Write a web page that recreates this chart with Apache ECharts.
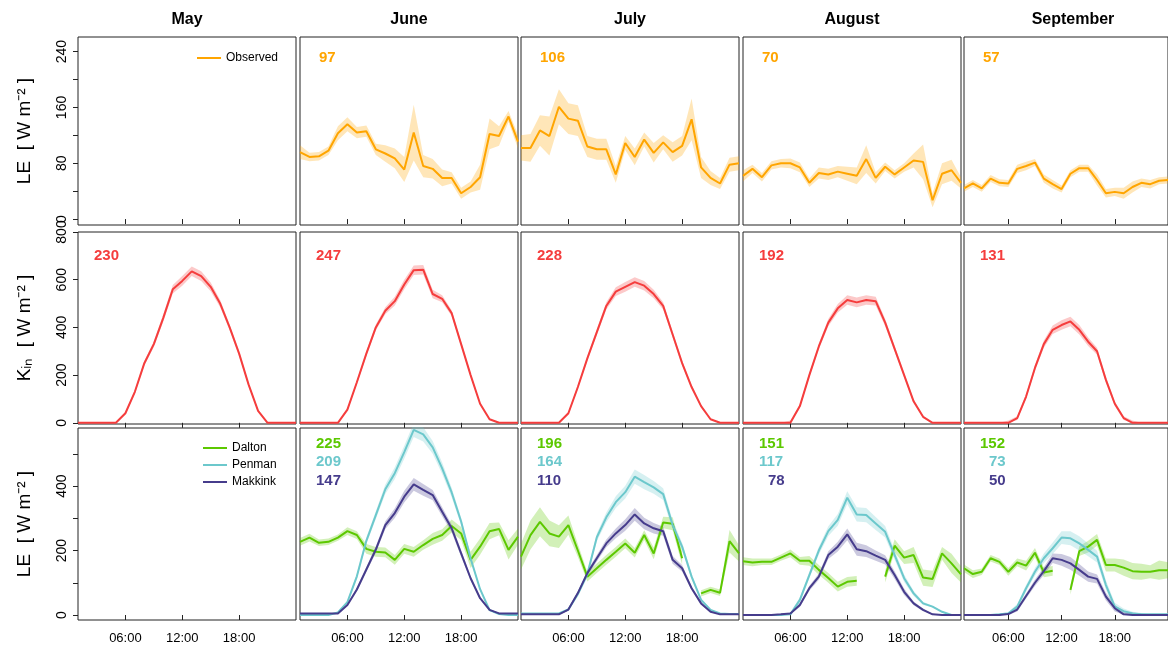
<!DOCTYPE html>
<html>
<head>
<meta charset="utf-8">
<script src="https://cdn.jsdelivr.net/npm/echarts@6/dist/echarts.min.js"></script>
</head>
<body style="margin:0">
<div id="main" style="width:1168px;height:649px;"></div>
<script>
// hours of the day (hourly means)
var hours = [1,2,3,4,5,6,7,8,9,10,11,12,13,14,15,16,17,18,19,20,21,22,23,24];
var months = ['May', 'June', 'July', 'August', 'September'];
var tickHours = [6, 12, 18];

// observed LE (row 1), May has no data
var junObs = [96,89,90,98,123,136,124,126,100,94,87,71,124,76,72,59,59,37,46,60,122,119,147,111];
var junObsSd = [10,6,6,6,10,10,8,8,8,12,14,18,40,16,14,12,8,8,8,18,22,14,8,10];
var julObs = [102,102,127,119,161,144,141,104,100,100,64,109,89,114,95,110,96,105,143,74,59,51,78,80];
var julObsSd = [18,20,22,28,25,22,22,15,15,15,12,10,12,10,14,10,14,14,30,15,10,8,10,10];
var augObs = [62,72,60,77,80,80,74,52,66,64,68,65,62,86,59,75,64,74,84,82,27,65,70,52];
var augObsSd = [8,6,6,6,6,7,7,6,8,8,8,10,12,20,8,6,6,6,10,25,10,15,15,8];
var sepObs = [44,51,44,58,52,51,72,76,81,58,50,43,65,73,73,56,37,39,37,46,52,50,55,56];
var sepObsSd = [5,5,5,5,5,5,6,6,5,6,6,5,5,5,5,8,6,6,8,8,6,6,5,5];
var obsMeans = [null, 97, 106, 70, 57];

// incoming shortwave (row 2)
var mayKin = [0,0,0,0,0,40,130,250,330,440,560,595,635,615,570,500,400,290,160,50,0,0,0,0];
var junKin = [0,0,0,0,0,55,170,290,400,470,510,580,640,642,540,520,460,330,200,80,15,0,0,0];
var julKin = [0,0,0,0,0,40,150,270,380,490,550,570,590,575,540,490,370,250,150,70,15,0,0,0];
var augKin = [0,0,0,0,0,0,70,200,320,420,480,515,505,515,510,420,310,200,90,25,0,0,0,0];
var sepKin = [0,0,0,0,0,0,20,110,230,330,390,410,425,390,340,300,180,80,20,0,0,0,0,0];
var kinSd = [0,0,0,0,0,5,8,10,12,15,18,20,20,20,18,15,12,10,8,5,0,0,0,0];
var kinMeans = [230, 247, 228, 192, 131];

// modelled LE (row 3)
var junDal = [227,240,224,227,240,260,248,205,196,194,171,205,196,217,236,248,276,253,171,212,260,267,202,243];
var junPen = [0,0,0,0,8,40,120,230,310,390,440,505,574,560,520,455,380,290,175,80,15,3,0,0];
var junMak = [5,5,5,5,5,31,79,141,203,279,316,367,405,388,372,320,269,191,114,52,16,5,5,5];
var julDal = [181,248,289,253,243,279,200,119,145,171,196,222,193,248,191,287,283,176,null,67,78,69,229,191];
var julPen = [5,5,5,5,5,17,65,127,241,303,350,381,429,412,396,375,279,212,119,47,16,5,3,3];
var julMak = [2,2,2,2,2,17,68,130,176,222,253,279,312,284,269,260,171,145,83,36,10,2,2,2];
var augDal = [167,163,165,165,178,191,168,168,140,115,88,103,106,null,null,119,215,178,186,116,112,191,160,126];
var augPen = [0,0,0,0,0,2,47,124,200,260,295,364,312,310,284,258,186,114,67,36,26,10,0,0];
var augMak = [0,0,0,0,2,5,31,83,119,186,212,250,204,198,184,171,124,72,36,16,2,0,0,0];
var sepDal = [145,127,134,176,165,134,163,153,193,132,137,null,78,198,212,233,155,155,147,136,134,134,139,139];
var sepPen = [0,0,0,0,2,5,26,83,134,176,207,240,238,222,202,181,93,26,12,5,2,2,2,2];
var sepMak = [0,0,0,0,0,3,17,59,100,136,176,171,160,140,119,112,57,21,2,0,0,0,0,0];
var dalSd = [12,12,10,10,10,12,12,15,15,15,15,15,15,15,18,18,20,20,25,25,25,20,30,25];
var julDalSd = [40,45,45,40,35,30,20,15,15,15,15,15,15,15,18,18,20,20,25,10,10,10,35,25];
var penSd = [0,0,0,0,2,4,8,10,12,15,18,20,22,22,20,18,15,12,8,5,3,0,0,0];
var makSd = [0,0,0,0,2,3,6,8,10,12,15,18,20,18,16,14,12,10,6,4,2,0,0,0];
var leMeans = [null, [225,209,147], [196,164,110], [151,117,78], [152,73,50]];

// y ticks and labelled ticks per row
var row1Ticks = [0,40,80,120,160,200,240], row1Labels = [0,80,160,240];
var row2Ticks = [0,200,400,600,800], row2Labels = [0,200,400,600,800];
var row3Ticks = [0,100,200,300,400,500], row3Labels = [0,200,400];

var C_OBS = '#FFA500', C_KIN = '#F53D3D', C_DAL = '#5CC800', C_PEN = '#6CC8CC', C_MAK = '#463C8C';
var FONT = 'Liberation Sans';

var lefts = [78, 300, 521, 743, 964];
var rows = [{top: 37, h: 188, min: -8.5, max: 261, ticks: row1Ticks, labels: row1Labels},
            {top: 232, h: 192, min: -5, max: 800, ticks: row2Ticks, labels: row2Labels},
            {top: 428, h: 192, min: -15.5, max: 580, ticks: row3Ticks, labels: row3Labels}];
var yNames = ['LE  [ W m⁻² ]', 'Kᵢₙ  [ W m⁻² ]', 'LE  [ W m⁻² ]'];

var grids = [], xAxes = [], yAxes = [], series = [], graphics = [];

function isTick(i, v) { return tickHours.indexOf(+v) >= 0; }

for (var r = 0; r < 3; r++) {
  for (var c = 0; c < 5; c++) {
    var row = rows[r];
    grids.push({left: lefts[c], top: row.top, width: 218, height: row.h,
      show: true, borderColor: '#222', borderWidth: 1, backgroundColor: '#fff'});
    xAxes.push({type: 'category', gridIndex: r * 5 + c, data: hours, boundaryGap: false,
      axisLine: {show: false}, splitLine: {show: false},
      axisTick: {show: true, length: 5, lineStyle: {color: '#222'}, interval: isTick},
      axisLabel: {show: r === 2, interval: isTick, fontFamily: FONT, fontSize: 13, color: '#000', margin: 12,
        formatter: function (v) { return (v < 10 ? '0' : '') + v + ':00'; }}});
    yAxes.push({type: 'value', gridIndex: r * 5 + c, min: row.min, max: row.max,
      axisLine: {show: false}, splitLine: {show: false},
      axisTick: {show: c === 0, length: 5, lineStyle: {color: '#222'}, customValues: row.ticks},
      axisLabel: {show: c === 0, customValues: row.labels, rotate: 90, fontFamily: FONT, fontSize: 14, color: '#000', margin: 9},
      name: c === 0 ? yNames[r] : '', nameLocation: 'middle', nameGap: 44, nameRotate: 90,
      nameTextStyle: {fontFamily: FONT, fontSize: 19, color: '#000'}});
  }
}

function addLine(idx, name, vals, sd, color) {
  var stack = 'band' + series.length;
  series.push({type: 'line', name: name + '_lo', xAxisIndex: idx, yAxisIndex: idx, stack: stack,
    data: vals.map(function (v, i) { return v === null ? '-' : v - sd[i]; }),
    symbol: 'none', lineStyle: {opacity: 0}, silent: true});
  series.push({type: 'line', name: name + '_band', xAxisIndex: idx, yAxisIndex: idx, stack: stack,
    data: vals.map(function (v, i) { return v === null ? '-' : 2 * sd[i]; }),
    symbol: 'none', lineStyle: {opacity: 0}, areaStyle: {color: color, opacity: 0.28}, silent: true});
  series.push({type: 'line', name: name, xAxisIndex: idx, yAxisIndex: idx,
    data: vals.map(function (v) { return v === null ? '-' : v; }),
    symbol: 'none', color: color, lineStyle: {color: color, width: 2}});
}

// row 1
var obs = [null, [junObs, junObsSd], [julObs, julObsSd], [augObs, augObsSd], [sepObs, sepObsSd]];
for (var c = 1; c < 5; c++) addLine(c, 'Observed', obs[c][0], obs[c][1], C_OBS);
// row 2
var kins = [mayKin, junKin, julKin, augKin, sepKin];
for (var c = 0; c < 5; c++) addLine(5 + c, 'Kin', kins[c], kinSd, C_KIN);
// row 3
var les = [null, [junDal, junPen, junMak], [julDal, julPen, julMak], [augDal, augPen, augMak], [sepDal, sepPen, sepMak]];
for (var c = 1; c < 5; c++) {
  addLine(10 + c, 'Dalton', les[c][0], c === 2 ? julDalSd : dalSd, C_DAL);
  addLine(10 + c, 'Penman', les[c][1], penSd, C_PEN);
  addLine(10 + c, 'Makkink', les[c][2], makSd, C_MAK);
}

// column titles and panel means
for (var c = 0; c < 5; c++) {
  graphics.push({type: 'text', x: lefts[c] + 109, y: 12, style: {text: months[c], textAlign: 'center',
    font: 'bold 16px ' + FONT, fill: '#000'}});
  if (obsMeans[c] !== null) graphics.push({type: 'text', x: lefts[c] + 19, y: 50,
    style: {text: String(obsMeans[c]), font: 'bold 15px ' + FONT, fill: C_OBS}});
  graphics.push({type: 'text', x: lefts[c] + 16, y: 248,
    style: {text: String(kinMeans[c]), font: 'bold 15px ' + FONT, fill: C_KIN}});
  if (leMeans[c] !== null) {
    var cols = [C_DAL, C_PEN, C_MAK];
    for (var k = 0; k < 3; k++) {
      var t = String(leMeans[c][k]);
      graphics.push({type: 'text', x: lefts[c] + 16 + (t.length < 3 ? 9 : 0), y: 436 + k * 18.5,
        style: {text: t, font: 'bold 15px ' + FONT, fill: cols[k]}});
    }
  }
}

var legendCommon = {icon: 'rect', itemWidth: 24, itemHeight: 2, textStyle: {fontFamily: FONT, fontSize: 12, color: '#000'},
  selectedMode: false, orient: 'vertical', itemGap: 5};

var myChart = echarts.init(document.getElementById('main'));
myChart.setOption({
  animation: false,
  backgroundColor: '#fff',
  grid: grids,
  xAxis: xAxes,
  yAxis: yAxes,
  legend: [
    Object.assign({}, legendCommon, {data: ['Observed'], left: 192, top: 47}),
    Object.assign({}, legendCommon, {data: ['Dalton', 'Penman', 'Makkink'], left: 198, top: 437})
  ],
  series: series,
  graphic: graphics
});
</script>
</body>
</html>
